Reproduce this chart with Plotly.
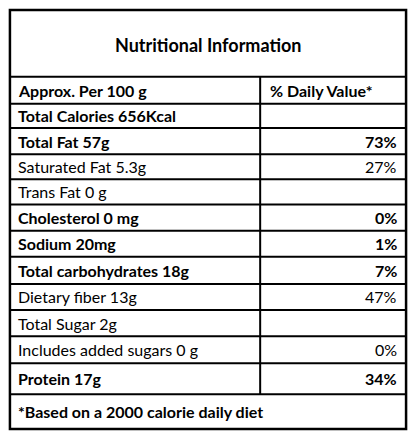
import plotly.graph_objects as go

# table content
title = "Nutritional Information"
header = ["Approx. Per 100 g", "% Daily Value*"]
nutrients = ["Total Calories 656Kcal", "Total Fat 57g", "Saturated Fat 5.3g", "Trans Fat 0 g",
             "Cholesterol 0 mg", "Sodium 20mg", "Total carbohydrates 18g", "Dietary fiber 13g",
             "Total Sugar 2g", "Includes added sugars 0 g", "Protein 17g"]
daily = ["", "73%", "27%", "", "0%", "1%", "7%", "47%", "", "0%", "34%"]
bold = [True, True, False, False, True, True, True, False, False, False, True]
footer = "*Based on a 2000 calorie daily diet"

# layout (pixels of the reference image)
W, H = 416, 440
left, right, mid = 3, 413, 262
edges = [3, 72, 100, 125, 152, 178, 204, 231, 258, 286, 313, 340, 368, 400, 436]
font = "Lato, Carlito, Arial, sans-serif"

fig = go.Figure()
shapes = [dict(type="rect", x0=left, x1=right, y0=edges[0], y1=edges[-1],
               line=dict(color="black", width=2.5))]
for y in edges[1:-1]:
    shapes.append(dict(type="line", x0=left, x1=right, y0=y, y1=y, line=dict(color="black", width=2)))
shapes.append(dict(type="line", x0=mid, x1=mid, y0=edges[1], y1=edges[-2], line=dict(color="black", width=2)))

ann = []
def txt(x, y, s, b=False, anchor="left", size=16):
    ann.append(dict(x=x, y=y, text=f"<b>{s}</b>" if b else s, showarrow=False, xanchor=anchor,
                    yanchor="middle", font=dict(family=font, size=size, color="black")))

txt(W / 2, (edges[0] + edges[1]) / 2 + 2, title, True, "center", 18)
txt(9, (edges[1] + edges[2]) / 2, header[0], True)
txt(mid + 8, (edges[1] + edges[2]) / 2, header[1], True)
for i, (n, d, b) in enumerate(zip(nutrients, daily, bold)):
    yc = (edges[i + 2] + edges[i + 3]) / 2
    txt(9, yc, n, b)
    if d:
        txt(right - 7, yc, d, b, "right")
txt(9, (edges[-2] + edges[-1]) / 2, footer, True)

fig.update_layout(
    width=400, height=424, margin=dict(l=0, r=0, t=0, b=0),
    paper_bgcolor="white", plot_bgcolor="white",
    shapes=shapes, annotations=ann, showlegend=False,
    xaxis=dict(range=[1, 415], visible=False, fixedrange=True),
    yaxis=dict(range=[439, 1], visible=False, fixedrange=True),
)
fig.write_html("out.html")
